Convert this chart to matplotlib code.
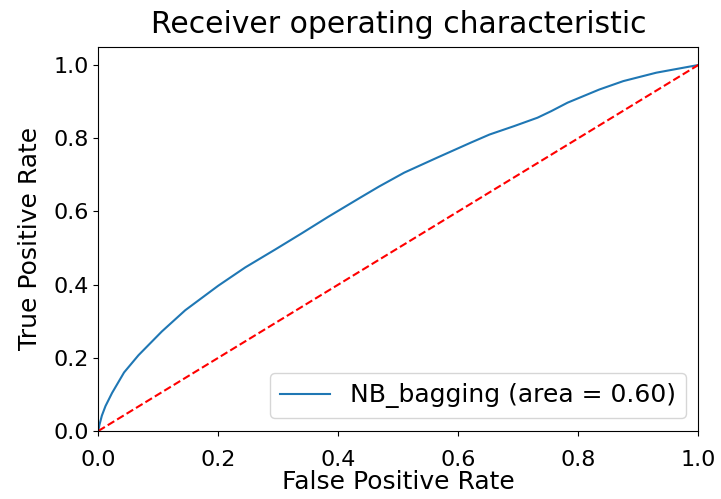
import numpy as np
import matplotlib
matplotlib.use("Agg")
import matplotlib.pyplot as plt

# ROC curve
fpr = [0, 0.002, 0.006, 0.012, 0.023, 0.043, 0.067, 0.106, 0.145, 0.2, 0.245,
       0.295, 0.339, 0.383, 0.437, 0.468, 0.51, 0.565, 0.621, 0.652, 0.693,
       0.732, 0.755, 0.782, 0.835, 0.875, 0.93, 1.0]
tpr = [0, 0.017, 0.042, 0.068, 0.104, 0.16, 0.207, 0.272, 0.33, 0.397, 0.447,
       0.496, 0.54, 0.585, 0.638, 0.668, 0.706, 0.747, 0.788, 0.81, 0.833,
       0.856, 0.874, 0.897, 0.933, 0.956, 0.979, 1.0]
roc_auc = 0.60
model_name = 'NB_bagging'

fig = plt.figure(figsize=(7.21, 4.99), dpi=100)
ax = fig.add_axes([0.1363, 0.1363, 0.8322, 0.7701])
ax.plot(fpr, tpr, label='%s (area = %0.2f)' % (model_name, roc_auc))
ax.plot([0, 1], [0, 1], 'r--')
ax.set_xlim([0.0, 1.0])
ax.set_ylim([0.0, 1.05])
ax.set_xlabel('False Positive Rate', fontsize=18, labelpad=0)
ax.set_ylabel('True Positive Rate', fontsize=18, labelpad=8)
ax.set_title('Receiver operating characteristic', fontsize=21.5, pad=10)
ax.tick_params(labelsize=16)
ax.tick_params(axis='x', pad=10)
ax.legend(loc="lower right", fontsize=18)
fig.savefig('out.png', dpi=100)
